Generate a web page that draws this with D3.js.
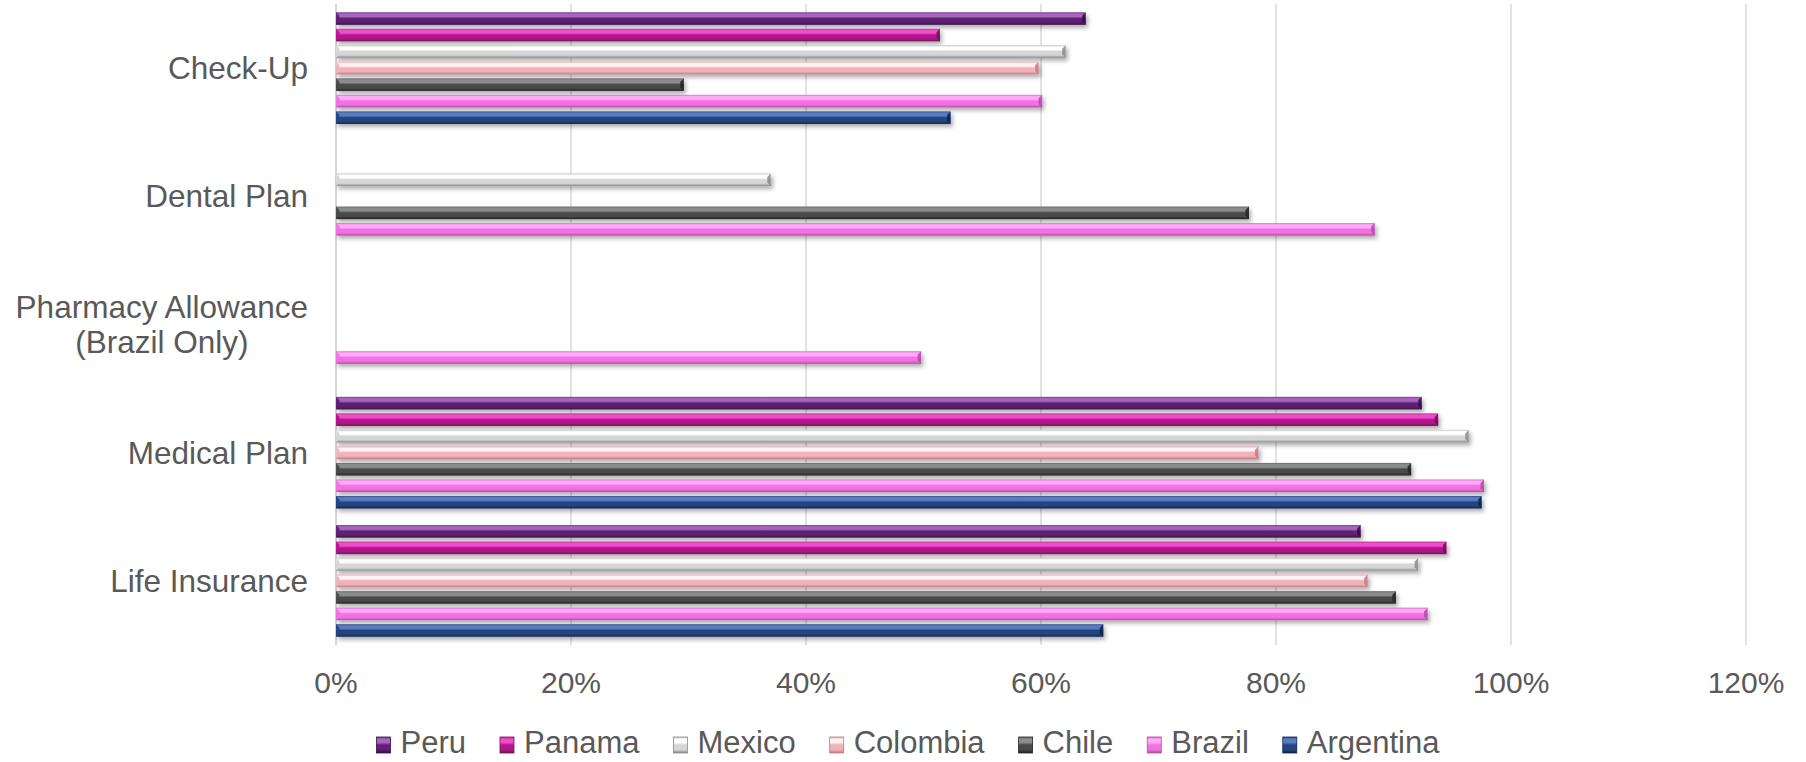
<!DOCTYPE html>
<html>
<head>
<meta charset="utf-8">
<script src="https://cdn.jsdelivr.net/npm/d3@7"></script>
<style>
  html, body { margin: 0; padding: 0; background: #ffffff; }
  svg { display: block; }
  text { font-family: "Liberation Sans", Arial, sans-serif; fill: #595959; }
</style>
</head>
<body>
<svg id="chart" width="1806" height="762"></svg>
<script>
// Benefit categories, listed top to bottom
const categories = ["Check-Up", "Dental Plan", "Pharmacy Allowance|(Brazil Only)", "Medical Plan", "Life Insurance"];

// Countries, listed top to bottom inside each group (also the legend order)
const countries = ["Peru", "Panama", "Mexico", "Colombia", "Chile", "Brazil", "Argentina"];

// Share of companies offering each benefit (%), by country; null = not reported
const peru      = [63.8, null, null, 92.4, 87.2];
const panama    = [51.4, null, null, 93.8, 94.5];
const mexico    = [62.1, 37.0, null, 96.4, 92.1];
const colombia  = [59.8, null, null, 78.5, 87.8];
const chile     = [29.6, 77.7, null, 91.5, 90.2];
const brazil    = [60.1, 88.4, 49.8, 97.7, 92.9];
const argentina = [52.3, null, null, 97.5, 65.3];

const xTicks = [0, 20, 40, 60, 80, 100, 120];

// Bevel shading per country: edge, highlight, body, shadow
const palette = {
  Peru:      ["#7a3a8e", "#a865be", "#5c2171", "#3a0b4a"],
  Panama:    ["#c02a98", "#f04ccc", "#b0198a", "#741058"],
  Mexico:    ["#c4c4c4", "#ffffff", "#d6d6d6", "#8a8a8a"],
  Colombia:  ["#e6a6ae", "#fff2f4", "#f0b2ba", "#c27a84"],
  Chile:     ["#6a6a6a", "#8c8c8c", "#4a4a4a", "#232323"],
  Brazil:    ["#e066d2", "#ffacf8", "#f072e2", "#b44aaa"],
  Argentina: ["#2f4f8c", "#5a7cc0", "#24457f", "#0d2252"]
};

const seriesValues = { Peru: peru, Panama: panama, Mexico: mexico, Colombia: colombia,
                       Chile: chile, Brazil: brazil, Argentina: argentina };

const svg = d3.select("#chart");
const margin = { left: 336, right: 60, top: 4, bottom: 117 };
const W = 1806, H = 762;

const x = d3.scaleLinear().domain([0, 120]).range([margin.left, W - margin.right]);
const y = d3.scaleBand().domain(categories).range([margin.top, H - margin.bottom]).paddingInner(0).paddingOuter(0);
const ySub = d3.scaleBand().domain(countries).range([0, y.bandwidth()]).paddingInner(0.24).paddingOuter(0.5);

// Gradients and shadow
const defs = svg.append("defs");
countries.forEach((c, i) => {
  const [edge, hi, body, dark] = palette[c];
  const g = defs.append("linearGradient").attr("id", "grad" + i)
    .attr("x1", 0).attr("y1", 0).attr("x2", 0).attr("y2", 1);
  [[0, edge], [0.14, hi], [0.34, hi], [0.5, body], [0.78, body], [1, dark]]
    .forEach(([o, col]) => g.append("stop").attr("offset", o).attr("stop-color", col));
});
const f = defs.append("filter").attr("id", "shadow")
  .attr("x", "-5%").attr("y", "-50%").attr("width", "110%").attr("height", "250%");
f.append("feDropShadow").attr("dx", 2).attr("dy", 3).attr("stdDeviation", 2)
  .attr("flood-color", "#000").attr("flood-opacity", 0.32);

// Vertical gridlines
svg.append("g").selectAll("line").data(xTicks.slice(1)).join("line")
  .attr("x1", d => x(d)).attr("x2", d => x(d))
  .attr("y1", margin.top).attr("y2", H - margin.bottom)
  .attr("stroke", "#d9d9d9").attr("stroke-width", 1.5);

// Category axis line
svg.append("line")
  .attr("x1", x(0)).attr("x2", x(0))
  .attr("y1", margin.top).attr("y2", H - margin.bottom)
  .attr("stroke", "#c8c8c8").attr("stroke-width", 1.5);

// Bars
const bars = [];
categories.forEach((cat, ci) => {
  countries.forEach((c, si) => {
    const v = seriesValues[c][ci];
    if (v != null) bars.push({ cat, c, si, v });
  });
});

const barG = svg.append("g");
const bar = barG.selectAll("g.bar").data(bars).join("g").attr("class", "bar")
  .attr("filter", "url(#shadow)");
bar.append("rect")
  .attr("x", x(0))
  .attr("y", d => y(d.cat) + ySub(d.c))
  .attr("width", d => x(d.v) - x(0))
  .attr("height", ySub.bandwidth())
  .attr("fill", d => `url(#grad${d.si})`);

// Bevelled ends of each bar
const bev = 3.5;
bar.append("path")
  .attr("d", d => {
    const x1 = x(d.v), y0 = y(d.cat) + ySub(d.c), y1 = y0 + ySub.bandwidth();
    return `M${x1},${y0}L${x1},${y1}L${x1 - bev},${y1 - bev}L${x1 - bev},${y0 + bev}Z`;
  })
  .attr("fill", d => palette[d.c][3]).attr("opacity", 0.85);
bar.append("path")
  .attr("d", d => {
    const x0 = x(0), y0 = y(d.cat) + ySub(d.c), y1 = y0 + ySub.bandwidth();
    return `M${x0},${y0}L${x0 + bev},${y0 + bev}L${x0 + bev},${y1 - bev}L${x0},${y1}Z`;
  })
  .attr("fill", d => palette[d.c][2]).attr("opacity", 0.9);

// Category labels
const labelSize = 31.5;
const labelG = svg.append("g");
categories.forEach(cat => {
  const lines = cat.split("|");
  const cy = y(cat) + y.bandwidth() / 2;
  const lh = 35;
  if (lines.length === 1) {
    labelG.append("text").attr("x", 308).attr("y", cy).attr("dy", "0.35em")
      .attr("text-anchor", "end").attr("font-size", labelSize).text(lines[0]);
  } else {
    const t = labelG.append("text").attr("text-anchor", "middle").attr("font-size", labelSize);
    const tmp = t.append("tspan").text(lines[0]);
    const w0 = tmp.node().getComputedTextLength();
    tmp.remove();
    const cx = 308 - w0 / 2;
    lines.forEach((ln, i) => {
      t.append("tspan").attr("x", cx)
        .attr("y", cy + (i - (lines.length - 1) / 2) * lh)
        .attr("dy", "0.35em").text(ln);
    });
  }
});

// Value axis tick labels
svg.append("g").selectAll("text").data(xTicks).join("text")
  .attr("x", d => x(d)).attr("y", 693)
  .attr("text-anchor", "middle").attr("font-size", 30)
  .text(d => d + "%");

// Legend
const legend = svg.append("g");
const items = legend.selectAll("g").data(countries).join("g");
items.append("rect").attr("width", 14).attr("height", 16).attr("y", -16)
  .attr("fill", (d, i) => `url(#grad${i})`).attr("stroke", (d) => palette[d][3]).attr("stroke-width", 0.8);
items.append("text").attr("x", 24).attr("y", 0).attr("font-size", 31).text(d => d);
let cur = 0;
const pos = [];
items.each(function () {
  const w = d3.select(this).select("text").node().getComputedTextLength();
  pos.push(cur);
  cur += 24 + w + 34;
});
const total = cur - 34;
const startX = 908 - total / 2;
items.attr("transform", (d, i) => `translate(${startX + pos[i]},753)`);
</script>
</body>
</html>
